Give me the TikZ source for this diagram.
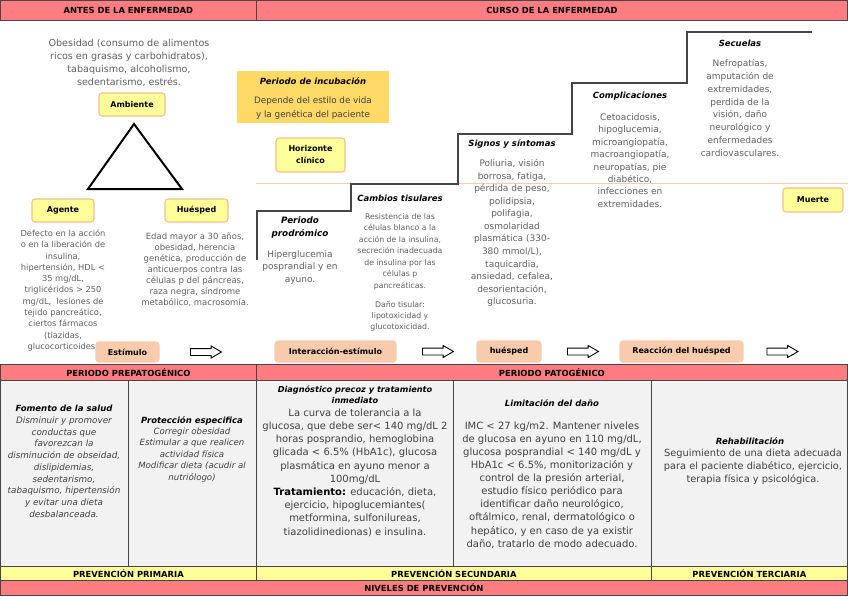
\documentclass[tikz,border=0pt]{standalone}
\usepackage{fontspec}
\setmainfont{DejaVu Sans}
\usetikzlibrary{shapes.arrows}
\definecolor{rosa}{RGB}{255,124,128}
\definecolor{amarillo}{RGB}{255,255,153}
\definecolor{dorado}{RGB}{255,217,102}
\definecolor{durazno}{RGB}{248,203,173}
\definecolor{bordecaja}{RGB}{246,190,140}
\definecolor{gris}{RGB}{242,242,242}
\definecolor{texto}{RGB}{96,96,96}
\definecolor{textob}{RGB}{64,64,64}
\definecolor{borde}{RGB}{70,70,70}
\newcommand{\fs}[2]{\fontsize{#1}{#2}\selectfont}

\begin{document}
\begin{tikzpicture}[x=1pt,y=-1pt,
  celda/.style={draw=borde,line width=0.8,inner sep=0,anchor=north west},
  encab/.style={celda,fill=rosa,font=\bfseries\fs{8.4}{9}},
  nivel/.style={celda,fill=amarillo,font=\bfseries\fs{8.4}{9}},
  fondo/.style={celda,fill=gris},
  caja/.style={rounded corners=3,fill=amarillo,draw=bordecaja,line width=1.1,font=\bfseries\fs{8}{11},align=center,inner sep=0},
  cajad/.style={caja,fill=durazno,draw=durazno},
  titulo/.style={font=\bfseries\itshape\fs{8.5}{11},align=center,inner sep=0},
  cuerpo/.style={text=texto,align=center,inner sep=0},
  cuerpob/.style={text=textob,align=center,inner sep=0},
  flecha/.style={single arrow,draw=black,line width=0.9,fill=white,inner xsep=0,inner ysep=3,minimum height=31,single arrow head extend=2.5,single arrow tip angle=60}]
\clip (0,0) rectangle (848,599);
\fill[white] (0,0) rectangle (848,599);
% encabezado
\node[encab,minimum width=256,minimum height=20] (antes) at (0,0) {ANTES DE LA ENFERMEDAD};
\node[encab,minimum width=591,minimum height=20] (curso) at (256,0) {CURSO DE LA ENFERMEDAD};

% triada ecologica
\node[cuerpo,font=\fs{9.6}{13}] (ambTxt) at (129,63) {Obesidad (consumo de alimentos\\ricos en grasas y carbohidratos),\\tabaquismo, alcoholismo,\\sedentarismo, estrés.};
\node[caja,minimum width=66,minimum height=23] (ambiente) at (132,104.5) {Ambiente};
\draw[line width=2,line join=miter] (134,124)--(182,189)--(88,189)--cycle;
\node[caja,minimum width=62,minimum height=23] (agente) at (63,210.5) {Agente};
\node[caja,minimum width=63,minimum height=23] (huesped) at (196.5,210.5) {Huésped};
\node[cuerpo,font=\fs{8.3}{11.3}] (ageTxt) at (63,290.5) {Defecto en la acción\\o en la liberación de\\insulina,\\hipertensión, HDL <\\35 mg/dL,\\triglicéridos > 250\\mg/dL,\ \ lesiones de\\tejido pancreático,\\ciertos fármacos\\(tiazidas,\\glucocorticoides)};
\node[cuerpo,font=\fs{8.5}{11}] (hueTxt) at (195,270) {Edad mayor a 30 años,\\obesidad, herencia\\genética, producción de\\anticuerpos contra las\\células p del páncreas,\\raza negra, síndrome\\metabólico, macrosomía.};

% historia natural
\node[fill=dorado,minimum width=152,minimum height=52,inner sep=0] (incub) at (313,97) {};
\node[titulo] (incT) at (313,81) {Periodo de incubación};
\node[cuerpo,text=black!75,font=\fs{8.8}{14}] (incTxt) at (313,108) {Depende del estilo de vida\\y la genética del paciente};
\node[caja,minimum width=69,minimum height=34,font=\bfseries\fs{8}{12}] (horiz) at (310.5,155) {Horizonte\\clínico};
\draw[durazno,line width=1] (256,183)--(848,183);
\draw[borde,line width=1.3] (257,260)--(257,211)--(351,211)--(351,184)--(458,184)--(458,134)--(572,134)--(572,83)--(687,83)--(687,32)--(812,32);

\node[titulo,font=\bfseries\itshape\fs{8.8}{13}] (prodT) at (300,227.5) {Periodo\\prodrómico};
\node[cuerpo,font=\fs{9}{12.5}] (prodTxt) at (300,267.5) {Hiperglucemia\\posprandial y en\\ayuno.};
\node[titulo] (cambT) at (400,198) {Cambios tisulares};
\node[cuerpo,font=\fs{7.8}{11.5}] (cambTxt) at (400,251.5) {Resistencia de las\\células blanco a la\\acción de la insulina,\\secreción inadecuada\\de insulina por las\\células p\\pancreáticas.};
\node[cuerpo,font=\fs{7.8}{11}] (danoTxt) at (400,316) {Daño tisular:\\lipotoxicidad y\\glucotoxicidad.};
\node[titulo] (signT) at (512,144) {Signos y síntomas};
\node[cuerpo,font=\fs{9}{12.55}] (signTxt) at (512,233) {Poliuria, visión\\borrosa, fatiga,\\pérdida de peso,\\polidipsia,\\polifagia,\\osmolaridad\\plasmática (330-\\380 mmol/L),\\taquicardia,\\ansiedad, cefalea,\\desorientación,\\glucosuria.};
\node[titulo] (compT) at (630,96) {Complicaciones};
\node[cuerpo,font=\fs{9}{12.4}] (compTxt) at (630,160.5) {Cetoacidosis,\\hipoglucemia,\\microangiopatía,\\macroangiopatía,\\neuropatías, pie\\diabético,\\infecciones en\\extremidades.};
\node[titulo] (secT) at (740,43) {Secuelas};
\node[cuerpo,font=\fs{9}{12.9}] (secTxt) at (740,108) {Nefropatías,\\amputación de\\extremidades,\\perdida de la\\visión, daño\\neurológico y\\enfermedades\\cardiovasculares.};
\node[caja,minimum width=60,minimum height=24] (muerte) at (813,200) {Muerte};

% secuencia
\node[cajad,minimum width=63,minimum height=20] (estimulo) at (127.5,352) {Estímulo};
\node[flecha] (f1) at (203,352) {};
\node[cajad,minimum width=121,minimum height=21] (interac) at (335.5,351.5) {Interacción-estímulo};
\node[flecha] (f2) at (435,351.5) {};
\node[cajad,minimum width=64,minimum height=21] (huespedB) at (509,351.5) {huésped};
\node[flecha] (f3) at (580,351.5) {};
\node[cajad,minimum width=123,minimum height=21] (reaccion) at (681.5,351.5) {Reacción del huésped};
\node[flecha] (f4) at (779.5,351.5) {};

% niveles de prevencion
\node[encab,minimum width=256,minimum height=16] (prepat) at (0,364) {PERIODO PREPATOGÉNICO};
\node[encab,minimum width=591,minimum height=16] (pat) at (256,364) {PERIODO PATOGÉNICO};
\node[fondo,minimum width=128,minimum height=186] (c1) at (0,380) {};
\node[fondo,minimum width=128,minimum height=186] (c2) at (128,380) {};
\node[fondo,minimum width=197,minimum height=186] (c3) at (256,380) {};
\node[fondo,minimum width=198,minimum height=186] (c4) at (453,380) {};
\node[fondo,minimum width=196,minimum height=186] (c5) at (651,380) {};
\node[nivel,minimum width=256,minimum height=14] (prim) at (0,566) {PREVENCIÓN PRIMARIA};
\node[nivel,minimum width=395,minimum height=14] (secu) at (256,566) {PREVENCIÓN SECUNDARIA};
\node[nivel,minimum width=196,minimum height=14] (terc) at (651,566) {PREVENCIÓN TERCIARIA};
\node[encab,minimum width=847,minimum height=15] (niveles) at (0,580) {NIVELES DE PREVENCIÓN};

\node[titulo] (fomT) at (64,408) {Fomento de la salud};
\node[cuerpob,font=\itshape\fs{8.8}{11.75}] (fomTxt) at (64,467) {Disminuir y promover\\conductas que\\favorezcan la\\disminución de obseidad,\\dislipidemias,\\sedentarismo,\\tabaquismo, hipertensión\\y evitar una dieta\\desbalanceada.};
\node[titulo] (proT) at (192,421) {Protección especifica};
\node[cuerpob,font=\itshape\fs{8.6}{11.5}] (proTxt) at (192,455) {Corregir obesidad\\Estimular a que realicen\\actividad física\\Modificar dieta (acudir al\\nutriólogo)};
\node[titulo,font=\bfseries\itshape\fs{8.2}{11}] (diaT) at (355,394.5) {Diagnóstico precoz y tratamiento\\inmediato};
\node[cuerpob,font=\fs{10}{13.2}] (diaTxt) at (355,472.5) {La curva de tolerancia a la\\glucosa, que debe ser< 140 mg/dL 2\\horas posprandio, hemoglobina\\glicada < 6.5\% (HbA1c), glucosa\\plasmática en ayuno menor a\\100mg/dL\\\textcolor{black}{\bfseries Tratamiento:} educación, dieta,\\ejercicio, hipoglucemiantes(\\metformina, sulfonilureas,\\tiazolidinedionas) e insulina.};
\node[titulo] (limT) at (552,403) {Limitación del daño};
\node[cuerpob,font=\fs{10}{13.1}] (limTxt) at (552,485) {IMC < 27 kg/m2. Mantener niveles\\de glucosa en ayuno en 110 mg/dL,\\glucosa posprandial < 140 mg/dL y\\HbA1c < 6.5\%, monitorización y\\control de la presión arterial,\\estudio físico periódico para\\identificar daño neurológico,\\oftálmico, renal, dermatológico o\\hepático, y en caso de ya existir\\daño, tratarlo de modo adecuado.};
\node[titulo] (rehT) at (750,441) {Rehabilitación};
\node[cuerpob,font=\fs{9.8}{13}] (rehTxt) at (753,467) {Seguimiento de una dieta adecuada\\para el paciente diabético, ejercicio,\\terapia física y psicológica.};
\end{tikzpicture}
\end{document}
